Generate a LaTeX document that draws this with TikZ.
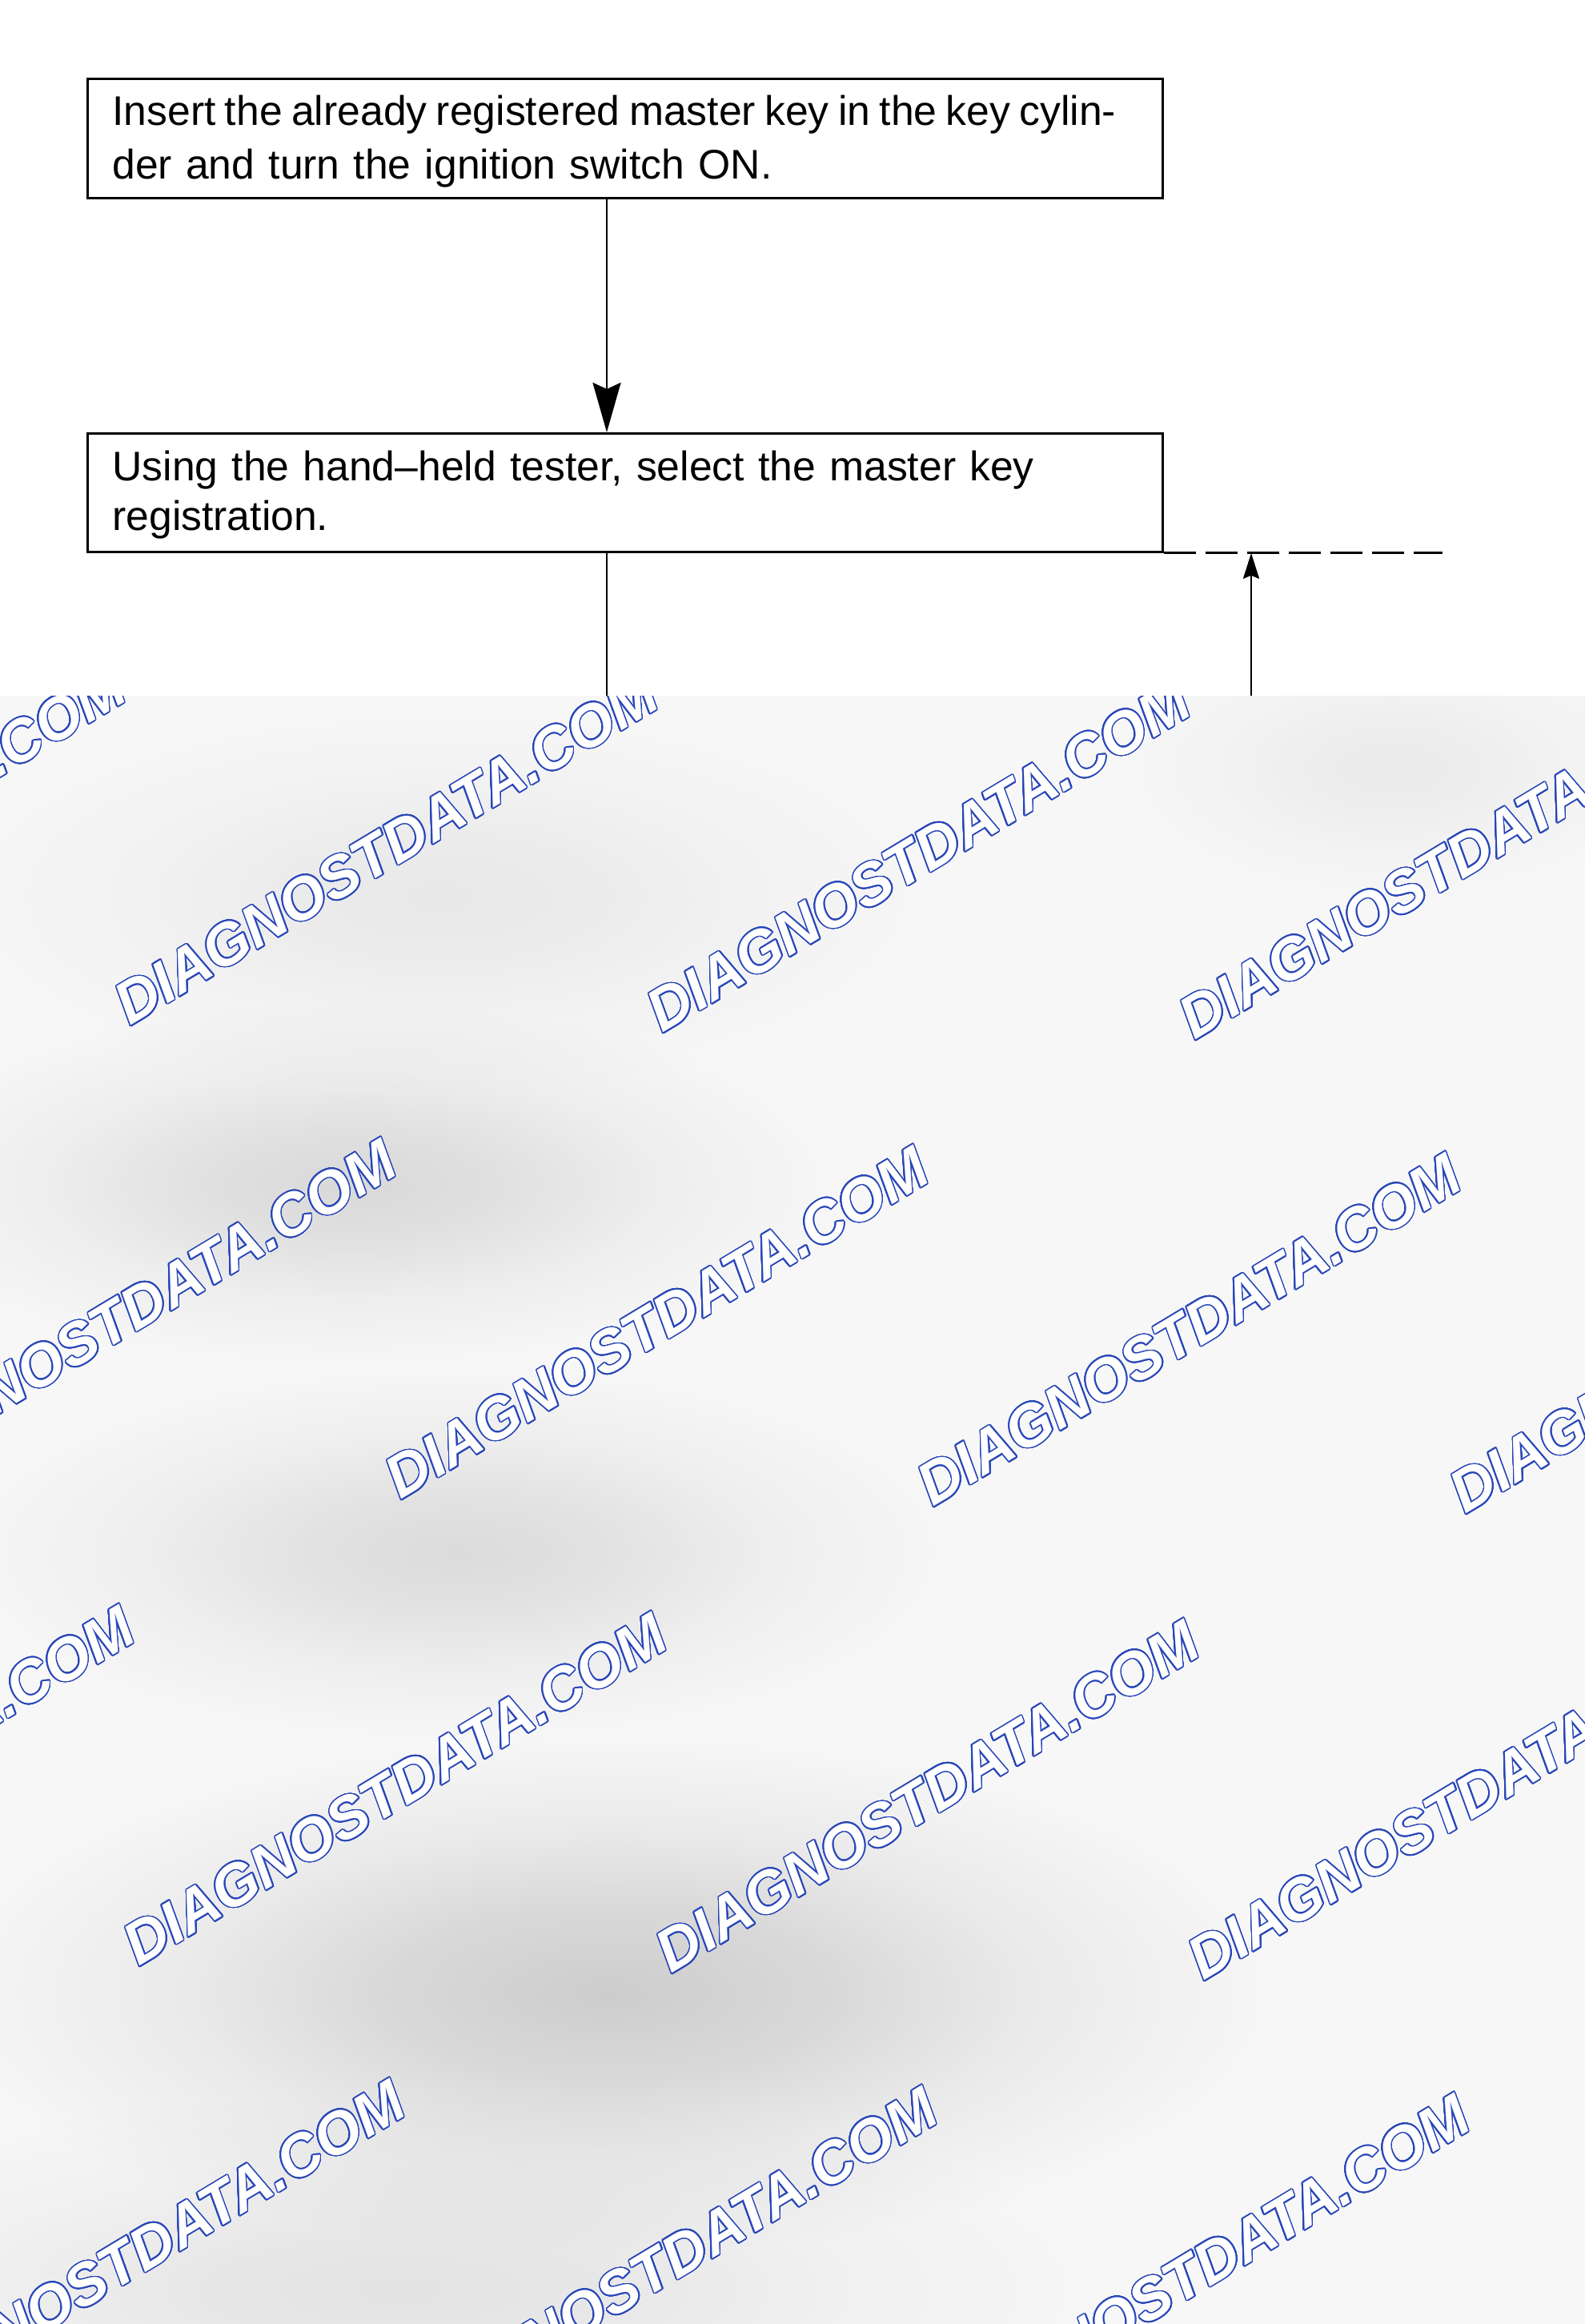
\documentclass[tikz,border=0pt]{standalone}
\usepackage{fontspec}
\setmainfont{Liberation Sans}
\usepackage[copies]{contour}
\usepackage{tikz}
\usetikzlibrary{positioning}
\usetikzlibrary{arrows.meta,calc}

\definecolor{WaterBlue}{RGB}{40,70,185}
\colorlet{blobin}{black!12}
\colorlet{blobout}{white}
\pgfdeclareradialshading[blobin,blobout]{blob}{\pgfpointorigin}{%
	color(0bp)=(blobin); color(7bp)=(blobin!75!blobout);
	color(15bp)=(blobin!30!blobout); color(24bp)=(blobout); color(50bp)=(blobout)}

\contourlength{0.45pt}
\contournumber{32}

\newcommand{\WaterMark}{\contour{WaterBlue}{DIAGNOSTDATA.COM}}

\tikzset{
	stepbox/.style={draw, thick, anchor=north west, inner xsep=0.31cm, inner ysep=0pt,
		text width=12.81cm, align=left},
	blobshade/.style={shading=blob, /utils/exec={\colorlet{blobin}{#1}}},
	watermark/.style={anchor=base west, rotate=31, inner sep=0pt, text=white,
		font=\fontsize{21pt}{21pt}\selectfont\bfseries\itshape},
}

\begin{document}
\begin{tikzpicture}
	
	% ------------------------------------------------
	% Ensure the dimensions of graphic are appropriate
	\useasboundingbox (0,0) rectangle (19.80,-29.03);
	
	% ------------------------------------------------
	% Relevant coordinates
	\coordinate (TopLeft) at (1.08,-0.97);
	
	\path (TopLeft) +(0,-4.43) coordinate (MidLeft);
	\path (7.58,0)  coordinate (Spine);
	\path (15.63,0) coordinate (Return);
	
	% Grey cover starts here
	\coordinate (CutLeft)  at (0,-8.69);
	\coordinate (CutRight) at (19.80,-29.03);
	
	%%%%%%%%%%%%%%%%%%%%%%%%%%%%%%%%%%%%%%%%%
	% Steps
	\node[stepbox, text height=0.58cm, text depth=0.91cm,
		font=\fontsize{14.7pt}{19.07pt}\selectfont] (Insert) at (TopLeft)
		{\makebox[12.54cm][s]{\spaceskip=0.17em plus 0.2em minus 0.05em
			Insert the already registered master key in the key cylin-}\\
		der and turn the ignition switch ON.};
	
	\node[stepbox, text height=0.59cm, text depth=0.89cm,
		font=\fontsize{14.7pt}{17.64pt}\selectfont] (Select) at (MidLeft)
		{Using the hand–held tester, select the master key\\
		registration.};
	
	% Connectors
	\draw[thick, -{Stealth[length=0.62cm, width=0.35cm, inset=0.08cm]}]
		(Insert.south -| Spine) -- (Select.north -| Spine);
	\draw[thick] (Select.south -| Spine) -- (CutLeft -| Spine);
	\draw[thick, -{Stealth[length=0.32cm, width=0.20cm, inset=0.04cm]}]
		(CutLeft -| Return) -- (Select.south -| Return);
	
	% Return line, dashed
	\draw[thick, dash pattern=on 0.40cm off 0.12cm] (Select.south east) -- ++(3.48,0);
	
	%%%%%%%%%%%%%%%%%%%%%%%%%%%%%%%%%%%%%%%%%
	% Grey cover
	\fill[black!3] (CutLeft) rectangle (CutRight);
	
	\begin{scope}
		\clip (CutLeft) rectangle (CutRight);
		
		% blurred patches, multiplied onto the cover
		\begin{scope}[blend mode=multiply]
			\shade[blobshade=black!6]  (5.5,-11.2)  ellipse (6.8cm and 2.6cm);
			\shade[blobshade=black!5]  (17.4,-9.6)  ellipse (3.8cm and 1.8cm);
			\shade[blobshade=black!12] (4.4,-14.8)  ellipse (6.4cm and 2.4cm);
			\shade[blobshade=black!11] (5.7,-19.4)  ellipse (6.6cm and 2.5cm);
			\shade[blobshade=black!17] (7.6,-24.9)  ellipse (8.8cm and 3.4cm);
			\shade[blobshade=black!8]  (5.0,-28.6)  ellipse (9.5cm and 2.6cm);
		\end{scope}
		
		% watermark rows
		\node[watermark] (WmA1) at (-5.03,-12.73) {\WaterMark};
		\node[watermark] (WmA2) at ( 1.62,-12.82) {\WaterMark};
		\node[watermark] (WmA3) at ( 8.27,-12.91) {\WaterMark};
		\node[watermark] (WmA4) at (14.92,-13.00) {\WaterMark};
		
		\node[watermark] (WmB1) at (-1.65,-18.65) {\WaterMark};
		\node[watermark] (WmB2) at ( 5.00,-18.74) {\WaterMark};
		\node[watermark] (WmB3) at (11.65,-18.83) {\WaterMark};
		\node[watermark] (WmB4) at (18.30,-18.92) {\WaterMark};
		
		\node[watermark] (WmC1) at (-4.92,-24.48) {\WaterMark};
		\node[watermark] (WmC2) at ( 1.73,-24.57) {\WaterMark};
		\node[watermark] (WmC3) at ( 8.38,-24.66) {\WaterMark};
		\node[watermark] (WmC4) at (15.03,-24.75) {\WaterMark};
		
		\node[watermark] (WmD1) at (-1.54,-30.40) {\WaterMark};
		\node[watermark] (WmD2) at ( 5.11,-30.49) {\WaterMark};
		\node[watermark] (WmD3) at (11.76,-30.58) {\WaterMark};
	\end{scope}
	
\end{tikzpicture}
\end{document}
